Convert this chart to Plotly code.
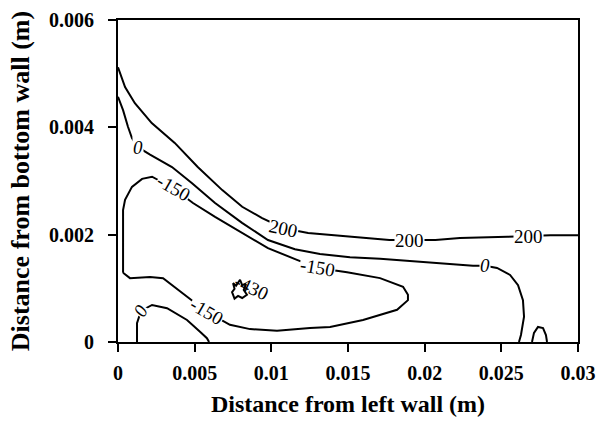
import plotly.graph_objects as go

# ---- data ----
c200_x = [0, 0.00046, 0.0011, 0.0022, 0.0037, 0.0052, 0.0068, 0.0081, 0.0094, 0.0108,
          0.0124, 0.0151, 0.0177, 0.0207, 0.0223, 0.0254, 0.0282, 0.03]
c200_y = [0.00512, 0.00475, 0.00445, 0.00408, 0.00371, 0.00326, 0.00283, 0.00252, 0.00231,
          0.00212, 0.00203, 0.00196, 0.00190, 0.00190, 0.00194, 0.00196, 0.00199, 0.00199]

c0_x = [0, 0.00033, 0.00065, 0.00091, 0.0013, 0.00209, 0.00352, 0.00483, 0.00633, 0.00809,
        0.00978, 0.01154, 0.01317, 0.01513, 0.01709, 0.0197, 0.02315, 0.02394, 0.02472,
        0.02557, 0.02609, 0.02641, 0.02648, 0.02628, 0.02615]
c0_y = [0.00457, 0.00432, 0.00401, 0.0038, 0.00363, 0.00349, 0.00326, 0.00296, 0.00259,
        0.00222, 0.00190, 0.00173, 0.00164, 0.00158, 0.00155, 0.00149, 0.00142, 0.00142,
        0.00138, 0.00125, 0.00106, 0.00078, 0.00047, 0.00013, 0.0]

cm150_x = [0.00033, 0.00033, 0.00033, 0.00046, 0.00091, 0.00157, 0.00222, 0.00359, 0.00489,
           0.00633, 0.00809, 0.00978, 0.01167, 0.01304, 0.01494, 0.01709, 0.01859, 0.01891,
           0.01891, 0.0182, 0.01598, 0.01383, 0.01252, 0.01037, 0.00861, 0.0073, 0.0058,
           0.0045, 0.00294, 0.00209, 0.00078, 0.00033]
cm150_y = [0.00129, 0.0019, 0.00246, 0.00265, 0.00289, 0.00304, 0.00308, 0.00287, 0.00259,
           0.00233, 0.00203, 0.00175, 0.00153, 0.00138, 0.0013, 0.00119, 0.00103, 0.00088,
           0.00078, 0.0006, 0.00041, 0.00028, 0.00026, 0.00021, 0.00024, 0.00032, 0.00056,
           0.00084, 0.00119, 0.00121, 0.00119, 0.00129]

cm430_x = [0.0075, 0.0077, 0.00796, 0.0081, 0.00835, 0.0082, 0.00841, 0.0081, 0.00783,
           0.0076, 0.00744, 0.0076, 0.0075]
cm430_y = [0.0011, 0.00105, 0.00116, 0.00106, 0.00108, 0.00097, 0.00088, 0.00082, 0.00086,
           0.00081, 0.00093, 0.00099, 0.0011]

c0b_x = [0.00124, 0.00124, 0.0015, 0.00222, 0.0032, 0.0045, 0.00535, 0.0058, 0.00594]
c0b_y = [0.0, 0.00035, 0.00058, 0.00069, 0.00063, 0.00041, 0.00019, 0.00007, 0.0]

c0c_x = [0.0270, 0.02713, 0.02739, 0.02772, 0.02791, 0.02798]
c0c_y = [0.0, 0.00017, 0.00028, 0.00026, 0.00013, 0.0]

# contour labels: text, x, y, angle
lab_text = ["200", "200", "200", "0", "0", "0", "-150", "-150", "-150", "-430"]
lab_x = [0.0108, 0.0190, 0.0268, 0.0013, 0.02394, 0.0015, 0.00359, 0.01304, 0.0058, 0.0087]
lab_y = [0.00212, 0.0019, 0.00197, 0.00363, 0.00142, 0.00058, 0.00287, 0.00138, 0.00056, 0.00101]
lab_ang = [12, 0, 0, 0, 0, -60, 30, 10, 30, 25]

x_ticks = [0, 0.005, 0.01, 0.015, 0.02, 0.025, 0.03]
x_ticklabels = ["0", "0.005", "0.01", "0.015", "0.02", "0.025", "0.03"]
y_ticks = [0, 0.002, 0.004, 0.006]
y_ticklabels = ["0", "0.002", "0.004", "0.006"]

FONT = "Liberation Serif"
line_style = dict(color="black", width=2)

fig = go.Figure()
for xs, ys in [(c200_x, c200_y), (c0_x, c0_y), (cm150_x, cm150_y), (cm430_x, cm430_y),
               (c0b_x, c0b_y), (c0c_x, c0c_y)]:
    fig.add_trace(go.Scatter(x=xs, y=ys, mode="lines", line=line_style,
                             showlegend=False, hoverinfo="skip"))

for t, x, y, a in zip(lab_text, lab_x, lab_y, lab_ang):
    italic = t == "0"
    fig.add_annotation(x=x, y=y, text=f"<i>{t}</i>" if italic else t, showarrow=False,
                       textangle=a, font=dict(family=FONT, size=19, color="black"),
                       bgcolor="white" if t != "-430" else "rgba(0,0,0,0)", borderpad=0)

axis_common = dict(showline=True, linecolor="black", linewidth=2, mirror=True,
                   ticks="outside", ticklen=8, tickwidth=1.5, tickcolor="black",
                   showgrid=False, zeroline=False,
                   tickfont=dict(family=FONT, size=20, color="black", weight="bold"))

fig.update_xaxes(range=[0, 0.03], tickvals=x_ticks, ticktext=x_ticklabels,
                 ticklabelstandoff=4,
                 title=dict(text="Distance from left wall (m)", standoff=12,
                            font=dict(family=FONT, size=24, color="black", weight="bold")),
                 **axis_common)
fig.update_yaxes(range=[0, 0.006], tickvals=y_ticks, ticktext=y_ticklabels,
                 ticklabelstandoff=10,
                 title=dict(text="Distance from bottom wall (m)", standoff=12,
                            font=dict(family=FONT, size=26, color="black", weight="bold")),
                 **axis_common)

fig.update_layout(width=606, height=429, margin=dict(l=118, r=28, t=20, b=87, autoexpand=False),
                  plot_bgcolor="white", paper_bgcolor="white")

fig.write_html("out.html", config={"displayModeBar": False},
               post_script="document.body.style.margin='0';")
